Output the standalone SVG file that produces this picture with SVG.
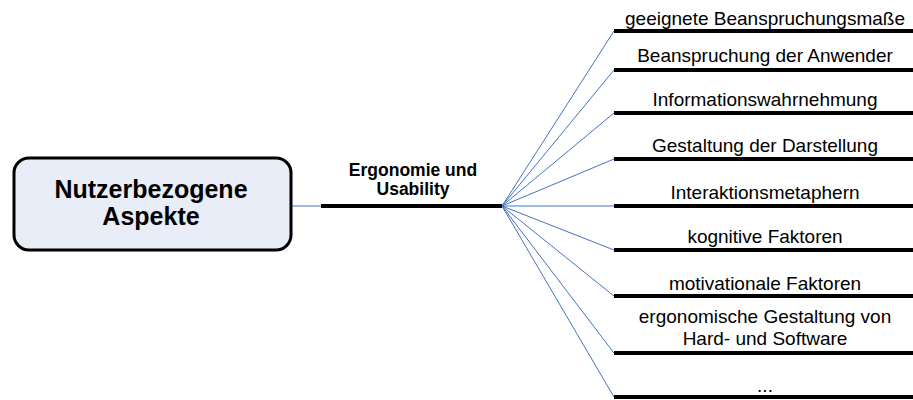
<svg xmlns="http://www.w3.org/2000/svg" width="913" height="400" viewBox="0 0 913 400">
<style>
.bar{stroke:#000;stroke-width:4;fill:none}
.con{stroke:#4472c4;stroke-width:1;fill:none}
.lbl{font-family:"Liberation Sans",Arial,sans-serif;font-size:19px;fill:#000;text-anchor:middle}
.bold{font-family:"Liberation Sans",Arial,sans-serif;font-weight:bold;fill:#000;text-anchor:middle}
</style>
<rect width="913" height="400" fill="#fff"/>
<g id="connectors">
<line class="con" x1="291" y1="206" x2="321" y2="206"/>
<line class="con" x1="502" y1="206" x2="614" y2="31"/>
<line class="con" x1="502" y1="206" x2="614" y2="70"/>
<line class="con" x1="502" y1="206" x2="614" y2="113"/>
<line class="con" x1="502" y1="206" x2="614" y2="159"/>
<line class="con" x1="502" y1="206" x2="614" y2="206"/>
<line class="con" x1="502" y1="206" x2="614" y2="250"/>
<line class="con" x1="502" y1="206" x2="614" y2="296"/>
<line class="con" x1="502" y1="206" x2="614" y2="353"/>
<line class="con" x1="502" y1="206" x2="614" y2="397"/>
</g>
<g id="root">
<rect x="14" y="158" width="277" height="92" rx="15" ry="15" fill="#e8edf7" stroke="#000" stroke-width="3"/>
<text class="bold" x="151" y="198" font-size="25">Nutzerbezogene</text>
<text class="bold" x="151" y="225" font-size="25">Aspekte</text>
</g>
<g id="ergonomie">
<line class="bar" x1="321" y1="206" x2="502" y2="206"/>
<text class="bold" x="413" y="175.5" font-size="17.5">Ergonomie und</text>
<text class="bold" x="413" y="194.5" font-size="17.5">Usability</text>
</g>
<g id="n1"><line class="bar" x1="614" y1="31" x2="913" y2="31"/><text class="lbl" x="765" y="25">geeignete Beanspruchungsmaße</text></g>
<g id="n2"><line class="bar" x1="614" y1="70" x2="913" y2="70"/><text class="lbl" x="765" y="62">Beanspruchung der Anwender</text></g>
<g id="n3"><line class="bar" x1="614" y1="113" x2="913" y2="113"/><text class="lbl" x="765" y="106">Informationswahrnehmung</text></g>
<g id="n4"><line class="bar" x1="614" y1="159" x2="913" y2="159"/><text class="lbl" x="765" y="152">Gestaltung der Darstellung</text></g>
<g id="n5"><line class="bar" x1="614" y1="206" x2="913" y2="206"/><text class="lbl" x="765" y="199">Interaktionsmetaphern</text></g>
<g id="n6"><line class="bar" x1="614" y1="250" x2="913" y2="250"/><text class="lbl" x="765" y="243">kognitive Faktoren</text></g>
<g id="n7"><line class="bar" x1="614" y1="296" x2="913" y2="296"/><text class="lbl" x="765" y="290">motivationale Faktoren</text></g>
<g id="n8"><line class="bar" x1="614" y1="353" x2="913" y2="353"/><text class="lbl" x="765" y="323">ergonomische Gestaltung von</text><text class="lbl" x="765" y="345">Hard- und Software</text></g>
<g id="n9"><line class="bar" x1="614" y1="397" x2="913" y2="397"/><text class="lbl" x="765" y="392">...</text></g>
</svg>
